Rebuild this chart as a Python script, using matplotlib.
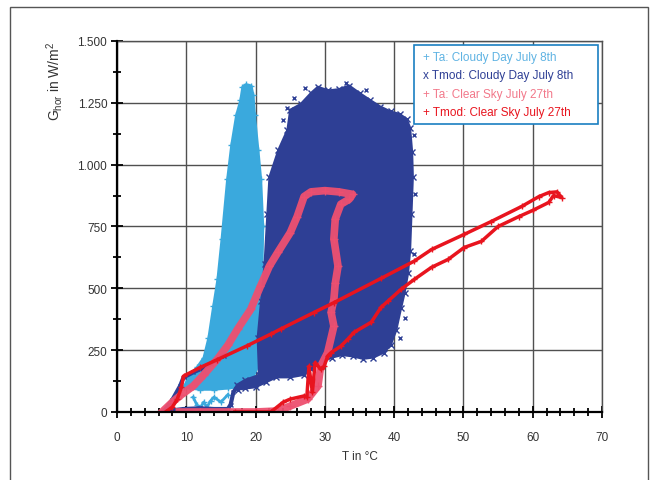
import matplotlib
matplotlib.use('Agg')
import matplotlib.pyplot as plt
from matplotlib.lines import Line2D
from matplotlib.patches import Rectangle
from matplotlib.ticker import MultipleLocator, FuncFormatter

plt.rcParams['font.family'] = ['Liberation Sans', 'DejaVu Sans']

# colours
c_ta_cloudy = '#3aa9dd'
c_tmod_cloudy = '#2e3f95'
c_ta_clear = '#ee5070'
c_tmod_clear = '#e8141e'

# Ta cloudy day - outline of the light blue point cloud (T, G)
ta_cloudy_T = [9.6, 10.5, 11.5, 12.5, 13.2, 13.9, 14.5, 15.1, 15.9, 16.5, 17.2, 17.8, 18.1, 18.6,
               19.4, 19.7, 19.9, 20.4, 20.8, 21.1, 21.0, 20.9, 20.7, 20.3, 19.5, 18.5, 17.4, 16.0,
               14.0, 12.0, 10.5]
ta_cloudy_G = [100, 150, 180, 220, 300, 430, 536, 700, 940, 1080, 1200, 1260, 1315, 1325,
               1320, 1280, 1200, 1060, 940, 750, 600, 450, 300, 180, 130, 110, 100, 95,
               90, 90, 95]
# light blue streaks near the bottom
ta_cloudy_low_T = [11.0, 11.5, 12.0, 12.5, 13.0, 13.5, 14.0, 15.0, 16.0]
ta_cloudy_low_G = [60, 30, 15, 40, 20, 45, 60, 40, 70]

# Tmod cloudy day - outline of the dark blue point cloud
tmod_cloudy_T = [20.5, 20.3, 20.8, 21.3, 21.7, 22.0, 23.3, 24.6, 25.0, 26.5, 28.0, 29.0, 30.5,
                 32.0, 33.5, 35.0, 36.5, 38.0, 39.5, 40.8, 41.8, 42.3, 42.6, 42.7, 42.5, 42.3,
                 42.0, 41.5, 41.0, 40.3, 39.5, 38.5, 37.0, 35.5, 34.0, 32.5, 31.0, 29.5, 28.0,
                 27.0, 25.0, 23.0, 21.5, 20.0, 18.5, 17.4, 17.3, 18.5]
tmod_cloudy_G = [150, 300, 450, 600, 800, 950, 1060, 1141, 1222, 1245, 1290, 1315, 1300,
                 1305, 1320, 1290, 1262, 1235, 1215, 1205, 1185, 1150, 1050, 950, 800, 650,
                 560, 480, 420, 330, 270, 240, 220, 215, 225, 230, 220, 200, 175,
                 150, 140, 140, 120, 100, 95, 90, 110, 130]
# dark blue trails at the bottom left
tmod_cloudy_up_T = [6.7, 8.0, 9.1, 9.6, 11.0, 12.0, 13.5, 14.5, 15.5]
tmod_cloudy_up_G = [0, 50, 105, 140, 160, 173, 195, 214, 228]
tmod_cloudy_low_T = [7.5, 9.6, 12.0, 14.0, 16.0, 16.4, 16.8, 17.4, 18.5, 20.0]
tmod_cloudy_low_G = [5, 12, 15, 12, 12, 30, 80, 105, 100, 110]
# scattered single points around the dark cloud
tmod_cloudy_pts_T = [24.0, 24.5, 25.5, 27.2, 33.0, 36.0, 42.9, 43.0, 42.8, 41.5, 40.8, 24.2, 23.8]
tmod_cloudy_pts_G = [1180, 1230, 1270, 1310, 1330, 1300, 1120, 880, 640, 380, 300, 1090, 1000]

# Ta clear sky - pink loop
ta_clear_T = [6.5, 8.0, 9.3, 11.0, 12.5, 14.5, 16.0, 17.4, 19.3, 20.7, 22.0, 23.2, 25.0, 26.0,
              27.0, 28.0, 30.0, 32.0, 34.0, 33.5, 32.3, 31.5, 31.3, 31.9, 31.5, 31.3, 30.9,
              31.3, 30.4, 29.4, 29.0, 27.5, 25.0, 23.2, 20.0, 16.0, 12.0, 9.0]
ta_clear_G = [0, 40, 70, 105, 150, 214, 270, 335, 415, 508, 590, 645, 725, 790,
              871, 890, 895, 890, 880, 860, 840, 780, 700, 589, 520, 455, 403,
              347, 240, 185, 105, 52, 24, 4, 0, 0, 0, 0]

# Tmod clear sky - red loop
tmod_clear_T = [7.0, 8.0, 8.7, 9.3, 9.6, 12.0, 14.5, 18.8, 22.2, 23.6, 28.4, 31.3, 38.1, 42.9,
                45.4, 50.1, 54.0, 58.4, 60.9, 62.3, 63.5, 64.2, 63.0, 62.3, 60.0, 58.0, 55.0,
                52.6, 50.1, 47.8, 45.4, 42.9, 41.0, 39.1, 38.1, 36.7, 34.2, 33.3, 32.3, 30.9,
                30.4, 29.9, 29.4, 28.6, 28.2, 27.7, 27.4, 27.0, 25.0, 24.0, 22.2, 20.0, 17.0]
tmod_clear_G = [0, 20, 52, 100, 145, 180, 212, 268, 315, 335, 402, 442, 540, 610,
                657, 718, 770, 831, 871, 887, 890, 867, 875, 847, 815, 790, 750,
                690, 665, 617, 585, 536, 496, 448, 423, 363, 322, 294, 266, 240,
                226, 185, 173, 200, 80, 185, 60, 65, 52, 40, 0, 0, 0]

fig = plt.figure(figsize=(6.54, 4.81), dpi=100)
ax = fig.add_axes([0.1789, 0.1414, 0.7416, 0.7713])

# light blue cloud
ax.fill(ta_cloudy_T, ta_cloudy_G, color=c_ta_cloudy, lw=0, zorder=2)
ax.plot(ta_cloudy_T + ta_cloudy_T[:1], ta_cloudy_G + ta_cloudy_G[:1], color=c_ta_cloudy,
        lw=1.5, marker='+', ms=4, zorder=2)
ax.plot(ta_cloudy_low_T, ta_cloudy_low_G, color=c_ta_cloudy, lw=2, marker='+', ms=4, zorder=2)

# dark blue cloud
ax.fill(tmod_cloudy_T, tmod_cloudy_G, color=c_tmod_cloudy, lw=0, zorder=3)
ax.plot(tmod_cloudy_T + tmod_cloudy_T[:1], tmod_cloudy_G + tmod_cloudy_G[:1], color=c_tmod_cloudy,
        lw=1.5, marker='x', ms=4, zorder=3)
ax.plot(tmod_cloudy_up_T, tmod_cloudy_up_G, color=c_tmod_cloudy, lw=3, marker='x', ms=3, zorder=3)
ax.plot(tmod_cloudy_low_T, tmod_cloudy_low_G, color=c_tmod_cloudy, lw=3, marker='x', ms=3, zorder=3)
ax.plot(tmod_cloudy_pts_T, tmod_cloudy_pts_G, color=c_tmod_cloudy, ls='none', marker='x', ms=3, zorder=3)

# pink and red loops
ax.plot(ta_clear_T, ta_clear_G, color=c_ta_clear, lw=5.5, marker='+', ms=6, alpha=0.95, zorder=4)
ax.plot(tmod_clear_T, tmod_clear_G, color=c_tmod_clear, lw=2.5, marker='+', ms=4, zorder=5)

ax.set_xlim(0, 70)
ax.set_ylim(0, 1500)
ax.xaxis.set_major_locator(MultipleLocator(10))
ax.xaxis.set_minor_locator(MultipleLocator(2))
ax.yaxis.set_major_locator(MultipleLocator(250))
ax.yaxis.set_minor_locator(MultipleLocator(125))
ax.yaxis.set_major_formatter(FuncFormatter(lambda v, p: f'{int(v):,}'.replace(',', '.')))

ax.grid(True, which='major', color='#505050', lw=1, zorder=1)
ax.set_axisbelow(True)
for s in ['top', 'right']:
    ax.spines[s].set_color('#505050')
    ax.spines[s].set_linewidth(1)
for s in ['left', 'bottom']:
    ax.spines[s].set_color('black')
    ax.spines[s].set_linewidth(1.6)
    ax.spines[s].set_zorder(6)
ax.tick_params(which='major', direction='inout', length=8, width=1.3, color='black',
               labelsize=8.5, labelcolor='#333333')
ax.tick_params(which='minor', direction='inout', length=6, width=1.3, color='black')
ax.tick_params(axis='x', which='major', pad=10)
ax.tick_params(axis='y', which='major', pad=3)

ax.set_xlabel('T in °C', fontsize=8.5, color='#333333', labelpad=5)
fig.text(0.084, 0.913, 'G$_{\\mathregular{hor}}$ in W/m$^{\\mathregular{2}}$', rotation=90,
         ha='center', va='top', fontsize=10, color='#333333')

labels = ['+ Ta: Cloudy Day July 8th', 'x Tmod: Cloudy Day July 8th',
          '+ Ta: Clear Sky July 27th', '+ Tmod: Clear Sky July 27th']
colors = ['#5fb3e3', '#2e3f95', '#f2788a', '#e8141e']
handles = [Line2D([], [], ls='none') for _ in labels]
leg = ax.legend(handles, labels, loc='upper left', bbox_to_anchor=(0.6124, 0.5, 0.3794, 0.489),
                mode='expand', borderaxespad=0, handlelength=0.3, handletextpad=0, fontsize=8.5,
                labelspacing=0.55, borderpad=0.5, fancybox=False, framealpha=1)
leg.get_frame().set_edgecolor('#1a7fc1')
leg.get_frame().set_linewidth(1.2)
leg.set_zorder(10)
for t, c in zip(leg.get_texts(), colors):
    t.set_color(c)

fig.patches.append(Rectangle((0.0153, -0.01), 0.9755, 0.9934, transform=fig.transFigure,
                             fill=False, edgecolor='#555555', lw=1))

fig.savefig('out.png', dpi=100)
